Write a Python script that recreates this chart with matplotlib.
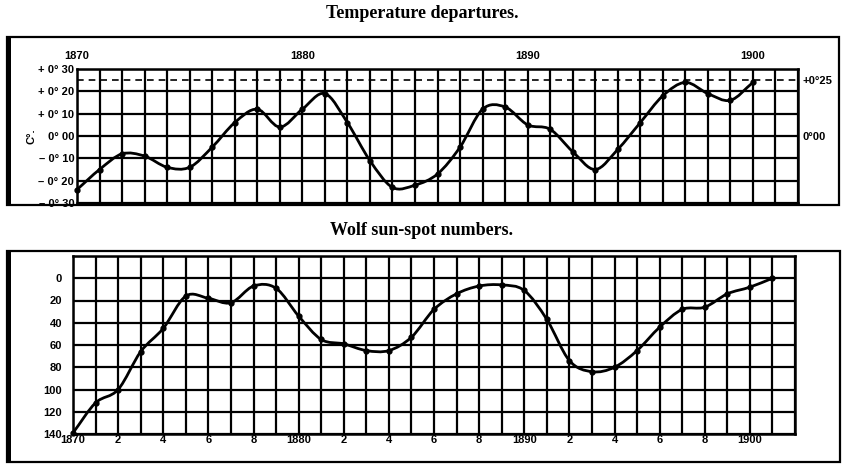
import numpy as np
import matplotlib
matplotlib.use("Agg")
import matplotlib.pyplot as plt
from matplotlib.path import Path
from matplotlib.patches import PathPatch, Rectangle

years = list(range(1870, 1901))
temp = [-0.24, -0.15, -0.08, -0.09, -0.14, -0.14, -0.05, 0.06, 0.12, 0.04,
        0.12, 0.19, 0.06, -0.11, -0.23, -0.22, -0.17, -0.05, 0.12, 0.13,
        0.05, 0.03, -0.07, -0.15, -0.06, 0.06, 0.18, 0.24, 0.19, 0.16, 0.24]

spot_years = list(range(1870, 1902))
spots = [139, 112, 100, 66, 45, 16, 18, 22, 7, 9,
         34, 55, 59, 65, 65, 53, 28, 14, 7, 6,
         11, 37, 74, 84, 80, 65, 44, 28, 26, 14,
         8, 0]

temp_ticks = [0.30, 0.20, 0.10, 0.0, -0.10, -0.20, -0.30]
temp_labels = ["+ 0° 30", "+ 0° 20", "+ 0° 10", "0° 00", "– 0° 10", "– 0° 20", "– 0° 30"]
temp_years = [1870, 1880, 1890, 1900]
spot_ticks = [0, 20, 40, 60, 80, 100, 120, 140]
spot_xticks = list(range(1870, 1901, 2))
spot_xlabels = [str(y) if y % 10 == 0 else str(y % 10) for y in spot_xticks]

W, H = 844, 465
LBL = dict(family="Liberation Sans", weight="bold", size=8)


def ax_at(fig, x0, y0, x1, y1):
    # pixel box (from top-left) -> axes
    return fig.add_axes([x0 / W, 1 - y1 / H, (x1 - x0) / W, (y1 - y0) / H])


def smooth(ax, xs, ys):
    # Catmull-Rom curve through the points, drawn as cubic bezier segments
    p = np.column_stack([xs, ys]).astype(float)
    q = np.vstack([2 * p[0] - p[1], p, 2 * p[-1] - p[-2]])
    verts = [p[0]]
    codes = [Path.MOVETO]
    for i in range(1, len(q) - 2):
        c1 = q[i] + (q[i + 1] - q[i - 1]) / 6
        c2 = q[i + 1] - (q[i + 2] - q[i]) / 6
        verts += [c1, c2, q[i + 1]]
        codes += [Path.CURVE4] * 3
    ax.add_patch(PathPatch(Path(verts, codes), fc="none", ec="black", lw=2.0,
                           zorder=4, clip_on=False))
    ax.plot(xs, ys, "o", color="black", ms=3.5, zorder=5, clip_on=False)


def grid_style(ax):
    ax.grid(True, which="both", color="black", lw=1.6)
    ax.set_axisbelow(True)
    ax.tick_params(which="both", length=0)
    for s in ax.spines.values():
        s.set_linewidth(1.8)


fig = plt.figure(figsize=(W / 100, H / 100), dpi=100)

# outer frames
for (x0, y0, x1, y1) in [(7, 37, 839, 205), (7, 251, 840, 462)]:
    fig.patches.append(Rectangle((x0 / W, 1 - y1 / H), (x1 - x0) / W, (y1 - y0) / H,
                                 transform=fig.transFigure, fill=False, ec="black", lw=1.6))
    fig.patches.append(Rectangle((x0 / W, 1 - y1 / H), 4 / W, (y1 - y0) / H,
                                 transform=fig.transFigure, fc="black", ec="none"))

fig.text(0.5, 1 - 14 / H, "Temperature departures.", ha="center", va="center",
         family="Liberation Serif", weight="bold", size=13)
fig.text(0.5, 1 - 230 / H, "Wolf sun-spot numbers.", ha="center", va="center",
         family="Liberation Serif", weight="bold", size=13)

# temperature panel
ax1 = ax_at(fig, 77, 69, 798, 203)
ax1.set_xlim(1870, 1902)
ax1.set_ylim(-0.30, 0.30)
ax1.set_xticks(range(1870, 1903), minor=True)
ax1.set_xticks(temp_years)
ax1.set_xticklabels([str(y) for y in temp_years], **LBL)
ax1.xaxis.tick_top()
ax1.tick_params(axis="x", pad=6)
ax1.set_yticks(temp_ticks)
ax1.set_yticklabels(temp_labels, **LBL)
ax1.tick_params(axis="y", pad=2)
grid_style(ax1)
ax1.axhline(0.25, color="black", lw=1.2, ls=(0, (4, 3)), zorder=3)
ax1.set_ylabel("C°.", rotation=90, labelpad=1, **LBL)
smooth(ax1, years, temp)

ax1r = ax1.twinx()
ax1r.set_ylim(-0.30, 0.30)
ax1r.set_yticks([0.25, 0.0])
ax1r.set_yticklabels(["+0°25", "0°00"], **LBL)
ax1r.tick_params(length=0, pad=3)
for s in ax1r.spines.values():
    s.set_visible(False)

# sun-spot panel
ax2 = ax_at(fig, 73, 256, 795, 434)
ax2.set_xlim(1870, 1902)
ax2.set_ylim(140, -20)
ax2.set_xticks(range(1870, 1903), minor=True)
ax2.set_xticks(spot_xticks)
ax2.set_xticklabels(spot_xlabels, **LBL)
ax2.tick_params(axis="x", pad=1)
ax2.set_yticks([-20], minor=True)
ax2.set_yticks(spot_ticks)
ax2.set_yticklabels([str(v) for v in spot_ticks], **LBL)
ax2.tick_params(axis="y", pad=8)
grid_style(ax2)
smooth(ax2, spot_years, spots)

fig.savefig("out.png", dpi=100)
